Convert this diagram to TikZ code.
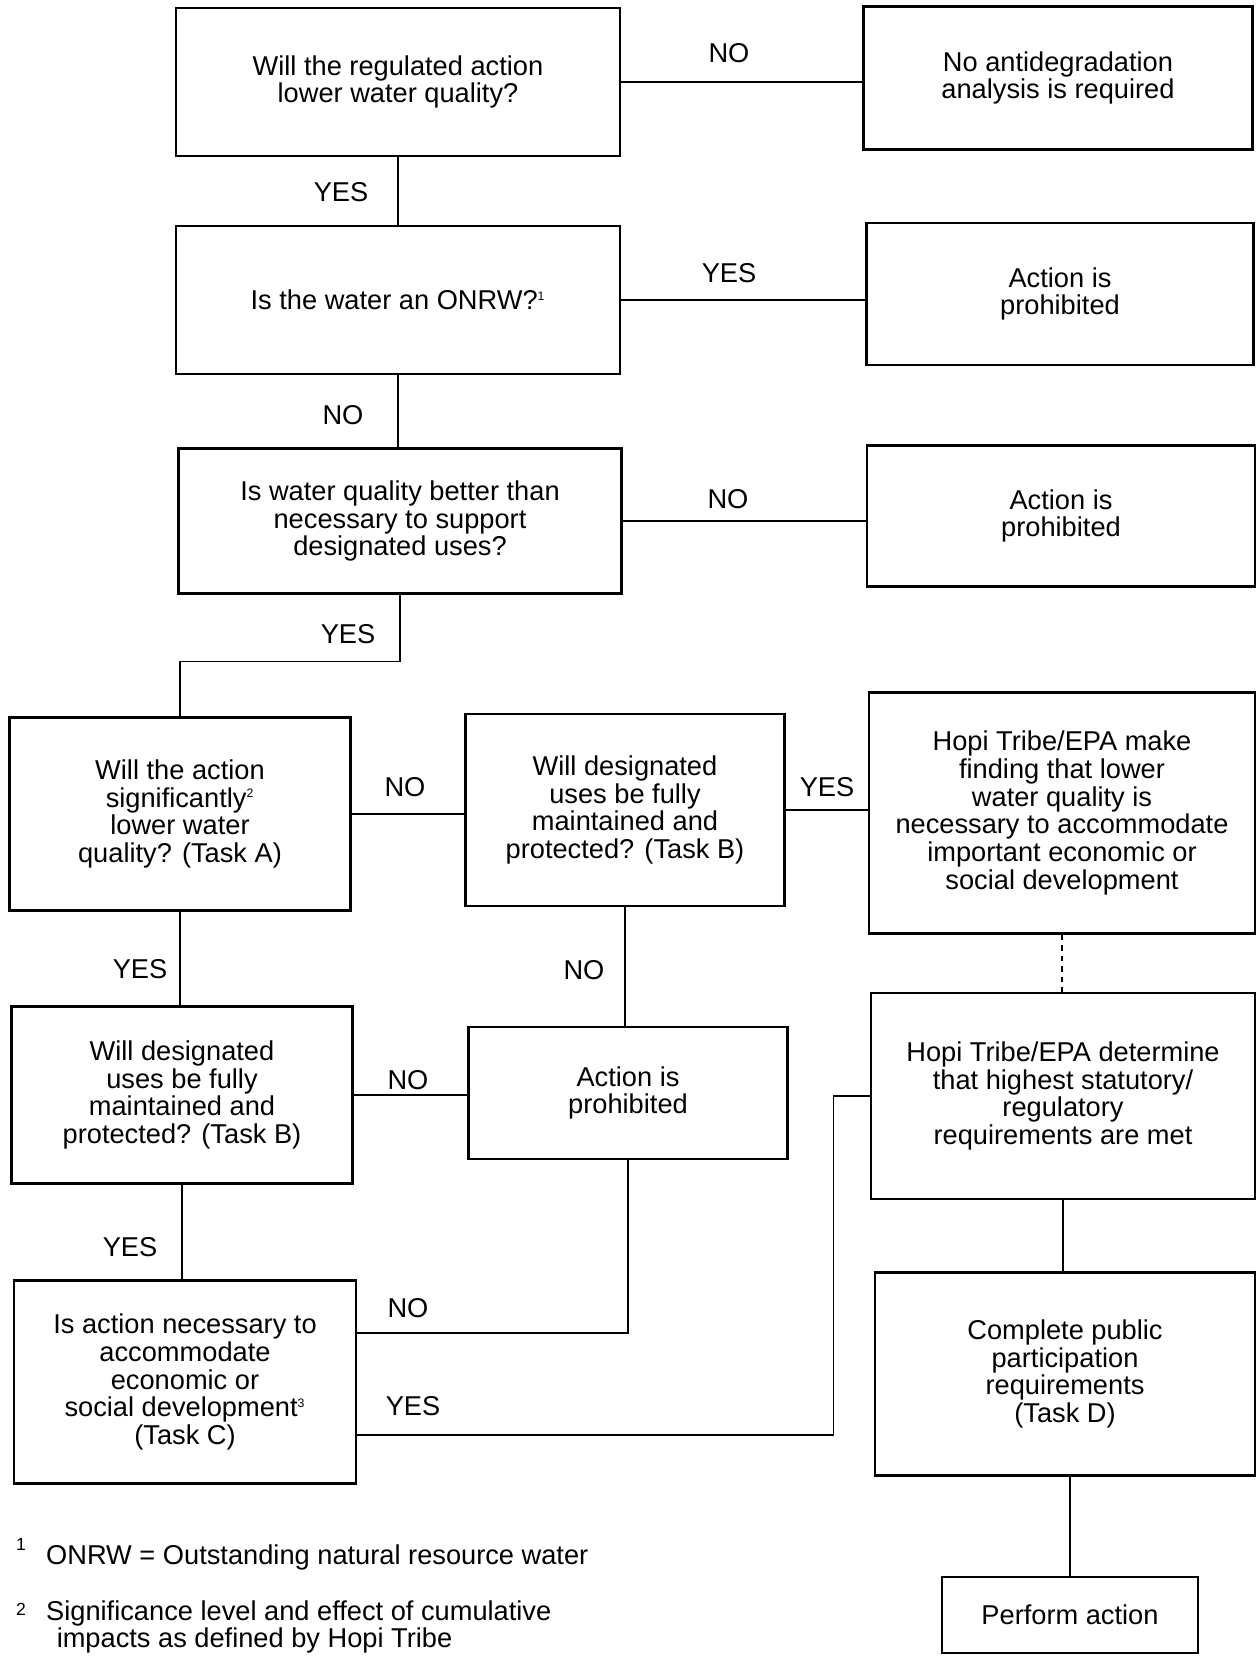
\documentclass[tikz,border=0pt]{standalone}
\usepackage{fontspec}
\setmainfont{Liberation Sans}

\begin{document}
\begin{tikzpicture}[x = 0.02cm, y = -0.02cm,
    box/.style = {draw, line width = 1.4pt, align = center, inner sep = 0pt},
    link/.style = {line width = 0.8pt},
    every node/.append style = {font = \fontsize{15.5}{15.8}\selectfont}]%
    \newcommand{\fnmark}[1]{\textsuperscript{\fontsize{7}{7}\selectfont #1}}
    \useasboundingbox (0, 0) rectangle (1257, 1656);
    \node[box, minimum width = 8.88cm, minimum height = 2.96cm] (q1) at (398, 82) {Will the regulated action\\lower water quality?};
    \node[box, minimum width = 7.78cm, minimum height = 2.86cm] (r1) at (1058, 78) {No antidegradation\\analysis is required};
    \node[box, minimum width = 8.88cm, minimum height = 2.96cm] (q2) at (398, 300) {Is the water an ONRW?\fnmark{1}};
    \node[box, minimum width = 7.74cm, minimum height = 2.84cm] (r2) at (1060, 294) {Action is\\prohibited};
    \node[box, minimum width = 8.86cm, minimum height = 2.9cm] (q3) at (400, 521) {Is water quality better than\\necessary to support\\designated uses?};
    \node[box, minimum width = 7.76cm, minimum height = 2.82cm] (r3) at (1061, 516) {Action is\\prohibited};
    \node[box, minimum width = 6.82cm, minimum height = 3.86cm] (q4) at (180, 814) {Will the action\\significantly\fnmark{2}\\lower water\\quality? (Task A)};
    \node[box, minimum width = 6.38cm, minimum height = 3.84cm] (q5) at (625, 810) {Will designated\\uses be fully\\maintained and\\protected? (Task B)};
    \node[box, minimum width = 7.72cm, minimum height = 4.82cm] (f6) at (1062, 813) {Hopi Tribe/EPA make\\finding that lower\\water quality is\\necessary to accommodate\\important economic or\\social development};
    \node[box, minimum width = 7.68cm, minimum height = 4.12cm] (d7) at (1063, 1096) {Hopi Tribe/EPA determine\\that highest statutory/\\regulatory\\requirements are met};
    \node[box, minimum width = 6.82cm, minimum height = 3.54cm] (q8) at (182, 1095) {Will designated\\uses be fully\\maintained and\\protected? (Task B)};
    \node[box, minimum width = 6.38cm, minimum height = 2.64cm] (r9) at (628, 1093) {Action is\\prohibited};
    \node[box, minimum width = 6.84cm, minimum height = 4.06cm] (q10) at (185, 1382) {Is action necessary to\\accommodate\\economic or\\social development\fnmark{3}\\(Task C)};
    \node[box, minimum width = 7.6cm, minimum height = 4.06cm] (p11) at (1065, 1374) {Complete public\\participation\\requirements\\(Task D)};
    \node[box, minimum width = 5.12cm, minimum height = 1.52cm] (a12) at (1070, 1615) {Perform action};
    \draw[link] (q1.east) -- (q1.east -| r1.west);
    \draw[link] (q1.south) -- (q1.south |- q2.north);
    \draw[link] (q2.east) -- (q2.east -| r2.west);
    \draw[link] (q2.south) -- (q2.south |- q3.north);
    \draw[link] (q3.east) -- (q3.east -| r3.west);
    \draw[link] (q3.south) -- ++(0, 67) -| (q4.north);
    \draw[link] (q4.east) -- (q4.east -| q5.west);
    \draw[link] (q5.east) -- (q5.east -| f6.west);
    \draw[link, dashed] (f6.south) -- (f6.south |- d7.north);
    \draw[link] (q4.south) -- (q4.south |- q8.north);
    \draw[link] (q8.east) -- (q8.east -| r9.west);
    \draw[link] (q5.south) -- (q5.south |- r9.north);
    \draw[link] (q8.south) -- (q8.south |- q10.north);
    \draw[link] (r9.south) |- ([yshift = 0.98cm]q10.east);
    \draw[link] ([yshift = -1.06cm]q10.east) -- ++(476, 0) |- (d7.west);
    \draw[link] (d7.south) -- (d7.south |- p11.north);
    \draw[link] (a12.north |- p11.south) -- (a12.north);
    \node (n1) at (729, 53) {NO};
    \node (y1) at (341, 192) {YES};
    \node (y2) at (729, 273) {YES};
    \node (n2) at (343, 415) {NO};
    \node (n3) at (728, 499) {NO};
    \node (y3) at (348, 634) {YES};
    \node (n4) at (405, 787) {NO};
    \node (y5) at (827, 787) {YES};
    \node (y4) at (140, 969) {YES};
    \node (n5) at (584, 970) {NO};
    \node (n8) at (408, 1080) {NO};
    \node (y8) at (130, 1247) {YES};
    \node (n9) at (408, 1308) {NO};
    \node (y10) at (413, 1406) {YES};
    \node[font = \fontsize{10}{10}\selectfont] (m1) at (21, 1544) {1};
    \node[anchor = west] (fn1) at (40, 1557) {ONRW = Outstanding natural resource water};
    \node[font = \fontsize{10}{10}\selectfont] (m2) at (21, 1609) {2};
    \node[anchor = west, align = left] (fn2) at (40, 1627) {Significance level and effect of cumulative\\\hspace{6pt}impacts as defined by Hopi Tribe};
\end{tikzpicture}
\end{document}
